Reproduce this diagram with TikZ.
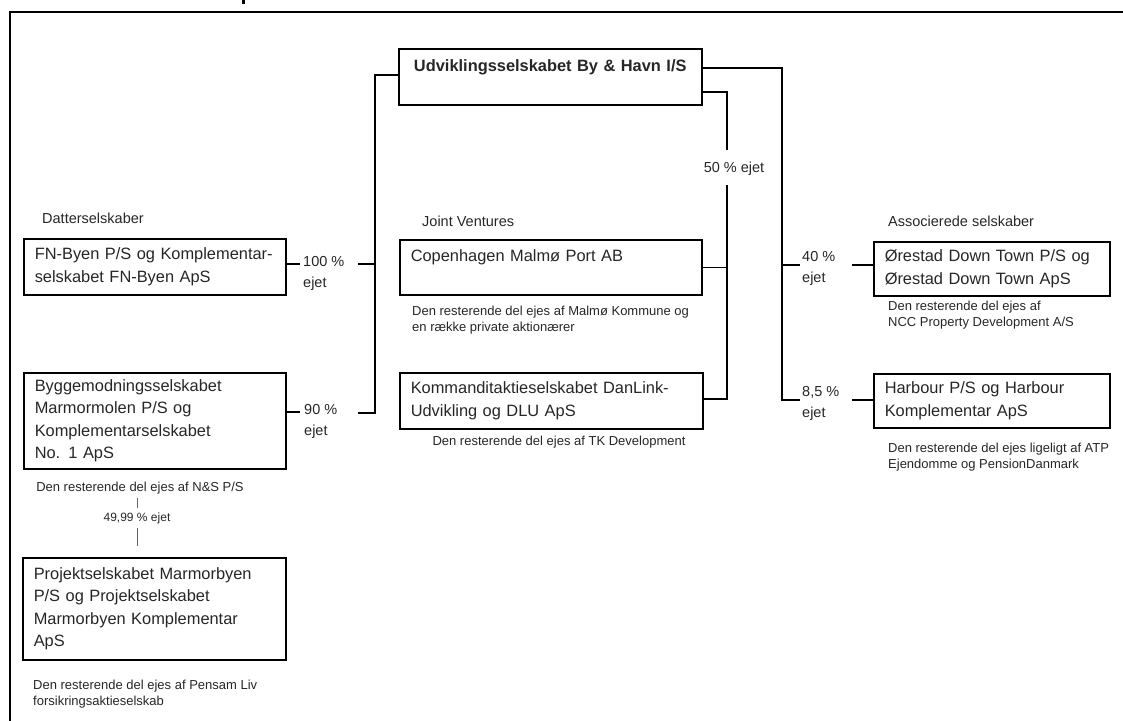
\documentclass[tikz,border=0pt]{standalone}
\usepackage{fontspec}
\setmainfont{Liberation Sans}
\newcommand{\boxfont}{\fontsize{16.4}{22.5}\selectfont}
\newcommand{\notefont}{\fontsize{13}{16.5}\selectfont}
\newcommand{\labfont}{\fontsize{14.5}{21}\selectfont}
\begin{document}
\begin{tikzpicture}[x=1pt,y=-1pt,
 org/.style={draw, line width=1.5pt, anchor=north west, align=left, inner xsep=11pt, inner ysep=0pt, font=\boxfont, text=black!85},
 note/.style={anchor=west, align=left, inner sep=0pt, font=\notefont, text=black!85},
 grp/.style={anchor=west, inner sep=0pt, font=\labfont, text=black!85},
 pct/.style={anchor=west, align=left, inner sep=0pt, font=\labfont, text=black!85},
 link/.style={line width=1.5pt},
 thinlink/.style={line width=0.7pt, draw=black!60}]
\useasboundingbox (0,0) rectangle (1123,720);
% frame
\draw[line width=1.6pt] (10,730) -- (10,12) -- (1135,12);
\fill (242,0) rectangle (245,4);
% boxes
\node[org, align=center, minimum width=303pt, minimum height=56pt, text width=281pt] (top) at (398,48)
  {\textbf{Udviklingsselskabet By \& Havn I/S}\\ \mbox{}};
\node[org, minimum width=262pt, minimum height=56pt, text width=240pt] (fn) at (23,238)
  {FN-Byen P/S og Komplementar-\\selskabet FN-Byen ApS};
\node[org, minimum width=262pt, minimum height=96pt, text width=240pt] (bygge) at (23,372)
  {Byggemodningsselskabet\\Marmormolen P/S og\\Komplementarselskabet\\No. 1 ApS};
\node[org, minimum width=263pt, minimum height=102pt, text width=241pt] (proj) at (22,557)
  {Projektselskabet Marmorbyen\\P/S og Projektselskabet\\Marmorbyen Komplementar\\ApS};
\node[org, minimum width=302pt, minimum height=55pt, text width=280pt] (cph) at (399,239)
  {Copenhagen Malmø Port AB\\ \mbox{}};
\node[org, minimum width=303pt, minimum height=56pt, text width=281pt] (kom) at (399,372)
  {Kommanditaktieselskabet DanLink-\\Udvikling og DLU ApS};
\node[org, minimum width=236pt, minimum height=54pt, text width=214pt] (oer) at (873,241)
  {Ørestad Down Town P/S og\\Ørestad Down Town ApS};
\node[org, minimum width=236pt, minimum height=54pt, text width=214pt] (harb) at (873,373)
  {Harbour P/S og Harbour\\Komplementar ApS};
% group labels
\node[grp] (g1) at (42,218) {Datterselskaber};
\node[grp] (g2) at (422,221) {Joint Ventures};
\node[grp] (g3) at (888,221) {Associerede selskaber};
% percentage labels
\node[pct] (p100) at (303,273) {100 \%\\ejet};
\node[pct] (p90) at (304,421) {90 \%\\ejet};
\node[pct] (p40) at (802,268) {40 \%\\ejet};
\node[pct] (p85) at (802,403) {8,5 \%\\ejet};
\node[pct, anchor=center] (p50) at (734,169) {50 \% ejet};
% notes
\node[note] (n1) at (412,320) {Den resterende del ejes af Malmø Kommune og\\en række private aktionærer};
\node[note, anchor=center] (n2) at (559,442) {Den resterende del ejes af TK Development};
\node[note] (n3) at (888,315) {Den resterende del ejes af\\NCC Property Development A/S};
\node[note] (n4) at (888,457) {Den resterende del ejes ligeligt af ATP\\Ejendomme og PensionDanmark};
\node[note, anchor=center] (n5) at (140,488) {Den resterende del ejes af N\&S P/S};
\node[note, anchor=center, font=\fontsize{12}{14}\selectfont] (p4999) at (137,518) {49,99 \% ejet};
\node[note] (n6) at (33,694) {Den resterende del ejes af Pensam Liv\\forsikringsaktieselskab};
% left bus
\coordinate (lb1) at (375,75);
\coordinate (lb2) at (375,413);
\coordinate (s100r) at (358,264);
\coordinate (s90r) at (358,413);
\coordinate (s100l) at (300,264);
\coordinate (s90l) at (300,412);
\draw[link] (top.west |- lb1) -- (lb1) -- (lb2) -- (s90r);
\draw[link] (lb1 |- s100r) -- (s100r);
\draw[link] (fn.east |- s100l) -- (s100l);
\draw[link] (bygge.east |- s90l) -- (s90l);
% right bus
\coordinate (rb1) at (782,68);
\coordinate (rb2) at (782,400);
\coordinate (s40l) at (800,265);
\coordinate (s85l) at (800,400);
\coordinate (s40r) at (852,265);
\coordinate (s85r) at (852,400);
\draw[link] (top.east |- rb1) -- (rb1) -- (rb2) -- (s85l);
\draw[link] (rb1 |- s40l) -- (s40l);
\draw[link] (s40r) -- (s40r -| oer.west);
\draw[link] (s85r) -- (s85r -| harb.west);
% inner bus (50 %)
\coordinate (ib1) at (727,92);
\coordinate (ib2) at (727,150);
\coordinate (ib3) at (727,185);
\coordinate (ib4) at (727,399);
\draw[link] (top.east |- ib1) -- (ib1) -- (ib2);
\draw[link] (ib3) -- (ib4) -- (ib4 -| kom.east);
\draw[link] (ib3 |- cph.east) -- (cph.east);
% thin link to project company
\coordinate (c1a) at (137,498);
\coordinate (c1b) at (137,508);
\coordinate (c2a) at (137,528);
\coordinate (c2b) at (137,546);
\draw[thinlink] (c1a) -- (c1b);
\draw[thinlink] (c2a) -- (c2b);
\end{tikzpicture}
\end{document}
